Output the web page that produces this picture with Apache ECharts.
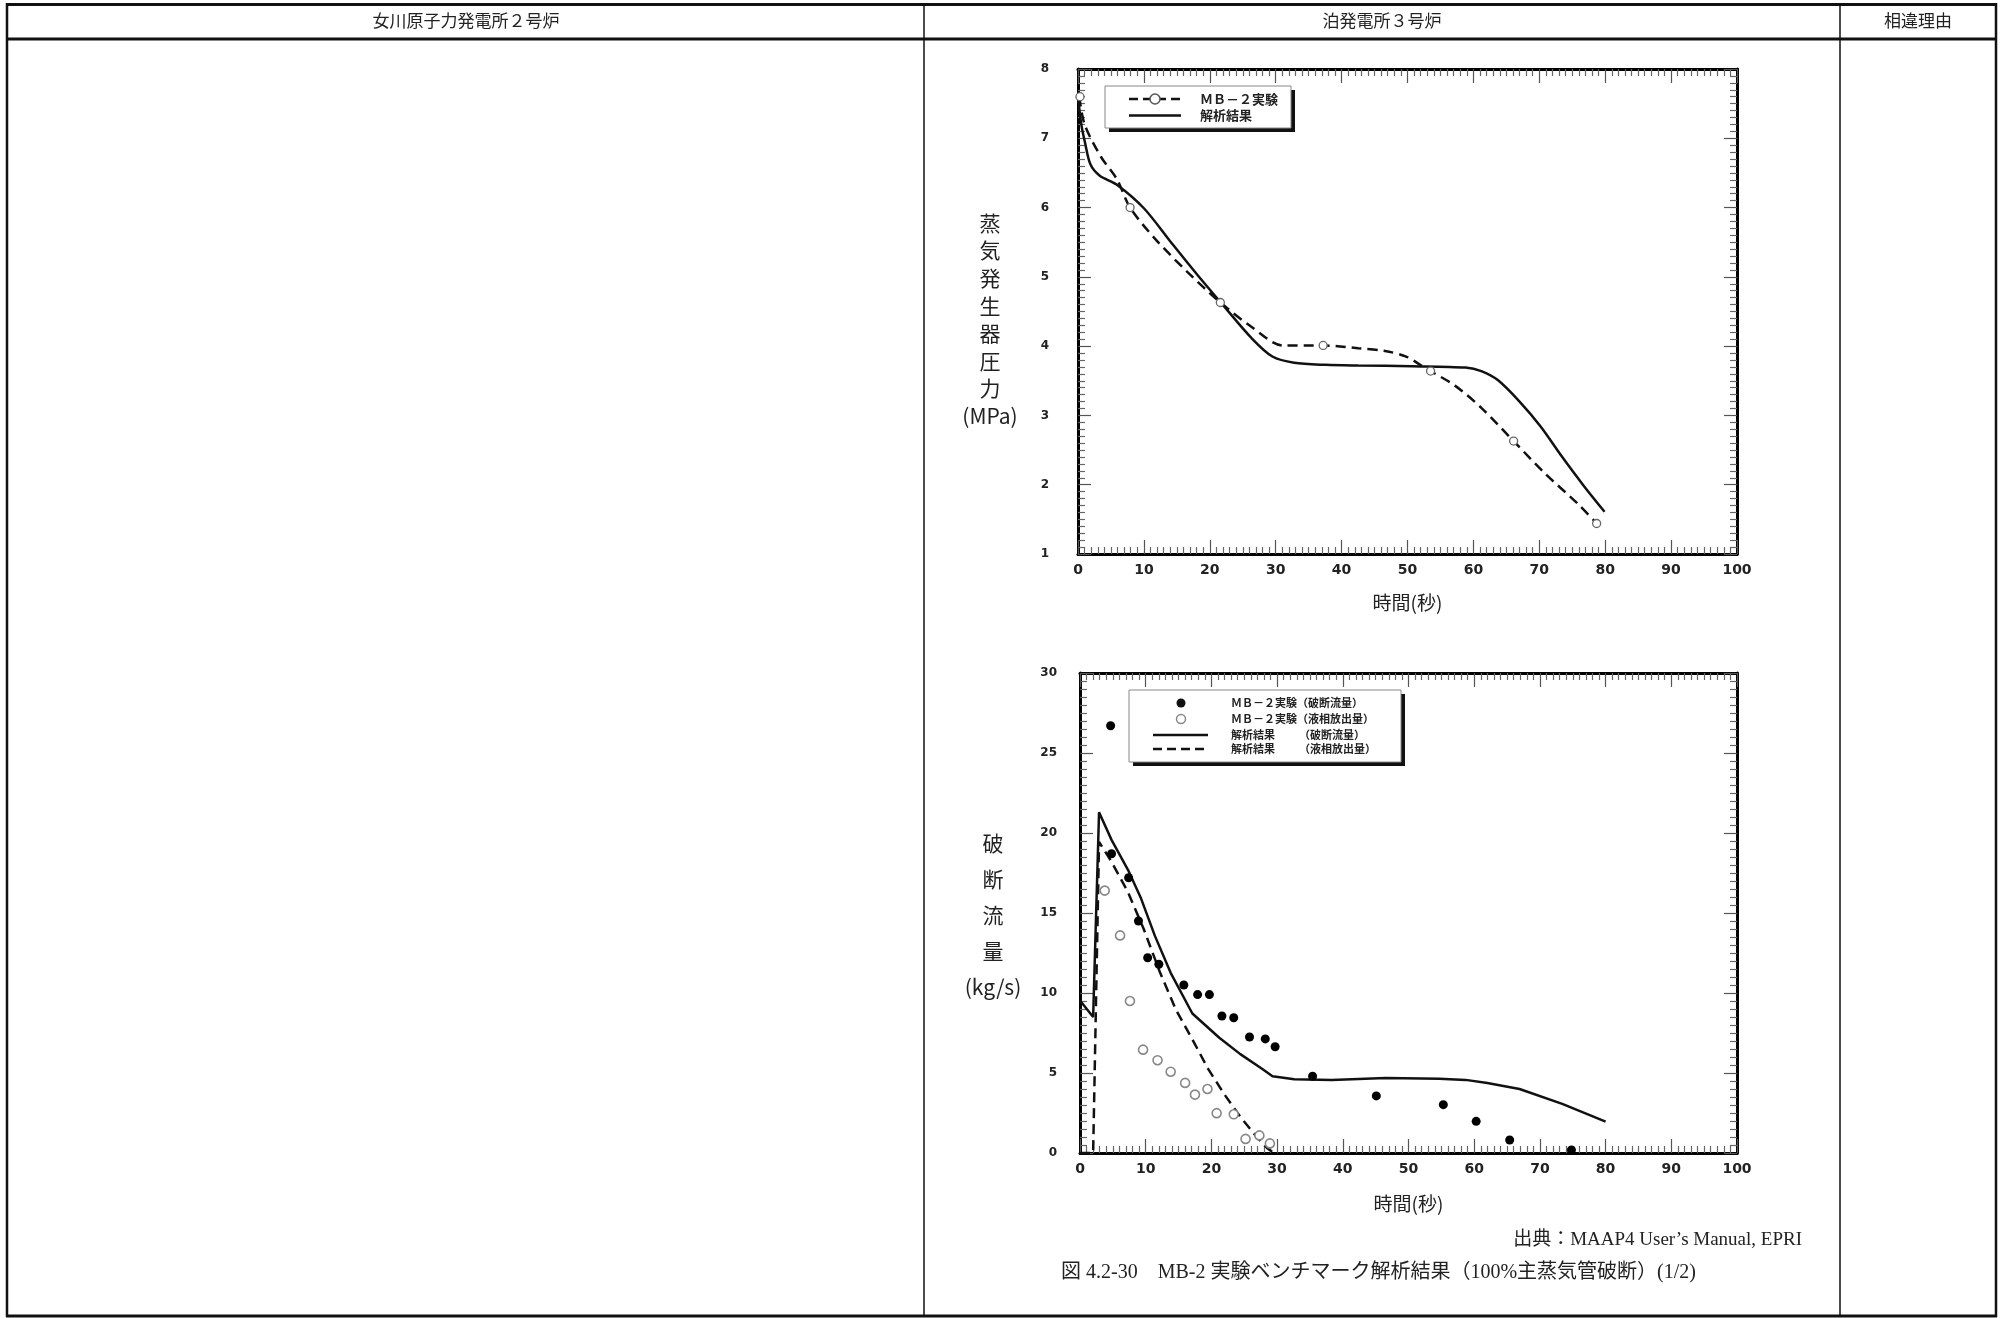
<!DOCTYPE html>
<html><head><meta charset="utf-8">
<script src="https://cdn.jsdelivr.net/npm/echarts@6/dist/echarts.min.js"></script>
<style>html,body{margin:0;padding:0;background:#fff}#c{width:2004px;height:1318px}</style>
</head><body><div id="c"></div><script>
// ---------- data ----------
const headerLabels = ['女川原子力発電所２号炉', '泊発電所３号炉', '相違理由'];
const xAxisName = '時間(秒)';
const pressureAxisName = ['蒸','気','発','生','器','圧','力','(MPa)'];
const flowAxisName = ['破','断','流','量','(kg/s)'];
const pressureLegend = ['ＭＢ－２実験', '解析結果'];
const flowLegend = ['ＭＢ－２実験（破断流量）', 'ＭＢ－２実験（液相放出量）', '解析結果', '（破断流量）', '（液相放出量）'];
const sourceNote = '出典：MAAP4 User\u2019s Manual, EPRI';
const figCaption = '図 4.2-30　MB-2 実験ベンチマーク解析結果（100%主蒸気管破断）(1/2)';

// top chart: SG pressure (MPa) vs time (s)
const pressureCalc = [[0,7.61],[0.5,7.2],[1.06,6.94],[1.9,6.62],[3.3,6.46],[5.9,6.33],[10,5.99],[14.1,5.5],[18.1,5.03],[22.2,4.57],[26.3,4.12],[29.5,3.85],[32.8,3.76],[37.6,3.73],[42.5,3.72],[50.7,3.71],[58.8,3.69],[61.2,3.64],[63.7,3.51],[66.9,3.21],[70.2,2.84],[73.4,2.41],[76.7,1.99],[79.9,1.61]];
const pressureExp = [[0.2,7.6],[1,7.2],[3.5,6.73],[5.9,6.41],[7.9,6.0],[11.6,5.56],[16.5,5.08],[21.6,4.63],[26.3,4.28],[31.1,4.01],[37.2,4.01],[42.5,3.97],[46.6,3.93],[49.8,3.85],[52.1,3.72],[53.5,3.64],[57.2,3.43],[61.2,3.11],[66.1,2.63],[71,2.15],[75.9,1.72],[78.7,1.44]];
const pressureExpMarks = [[0.3,7.6],[7.9,6.0],[21.6,4.63],[37.2,4.01],[53.5,3.64],[66.1,2.63],[78.7,1.44]];

// bottom chart: break flow (kg/s) vs time (s)
const flowCalc = [[0,9.53],[2.0,8.5],[2.9,21.3],[4.8,19.57],[7.3,17.7],[9.3,15.9],[11.4,13.57],[13.8,11.26],[17.1,8.72],[21.2,7.2],[24.4,6.18],[27.7,5.26],[29.3,4.8],[32.6,4.61],[38.3,4.57],[46.5,4.68],[54.7,4.64],[58.7,4.57],[62,4.38],[66.9,4.0],[73.4,3.07],[80,1.96]];
const liquidCalc = [[0,0],[2.0,0],[2.9,19.45],[4.8,18.2],[7.3,16.3],[9.7,14.0],[12.2,11.26],[14.6,8.95],[17.1,7.1],[19.5,5.26],[22,3.65],[24.4,2.26],[26.9,1.0],[28.5,0.3],[29.3,0.07]];
const flowExp = [[4.66,26.7],[4.8,18.7],[7.4,17.2],[8.9,14.5],[10.3,12.2],[12.0,11.8],[15.8,10.5],[17.9,9.9],[19.7,9.9],[21.6,8.56],[23.4,8.45],[25.8,7.25],[28.2,7.13],[29.7,6.64],[35.4,4.8],[45.1,3.57],[55.3,3.02],[60.3,1.98],[65.4,0.81],[74.8,0.19]];
const liquidExp = [[3.76,16.4],[6.1,13.6],[7.6,9.5],[9.6,6.46],[11.8,5.8],[13.8,5.08],[16,4.38],[17.5,3.65],[19.4,4.0],[20.8,2.49],[23.4,2.42],[25.2,0.88],[27.3,1.1],[28.9,0.6]];

// ---------- chart ----------
const chart = echarts.init(document.getElementById('c'), null, {renderer: 'canvas'});
const CJK = '"Noto Sans CJK JP", "Noto Sans", sans-serif';
const SERIF = '"Liberation Serif", "Noto Sans CJK JP", serif';
const TICKF = '"DejaVu Sans", sans-serif';

function xAx(grid, top, name, gap) {
  return {
    type: 'value', gridIndex: grid, min: 0, max: 100, interval: 10,
    position: top ? 'top' : 'bottom',
    axisLine: {show: true, onZero: false, lineStyle: {color: '#000', width: 3}},
    axisTick: {show: true, inside: true, length: 14, lineStyle: {color: '#555', width: 1.2}},
    minorTick: {show: true, splitNumber: 10, length: 7, lineStyle: {color: '#666', width: 1.2}},
    axisLabel: {show: !top, margin: 9, color: '#222', fontFamily: TICKF, fontWeight: 'bold', fontSize: 14},
    splitLine: {show: false},
    name: top ? '' : name, nameLocation: 'middle', nameGap: gap,
    nameTextStyle: {fontFamily: CJK, fontSize: 19, color: '#222', verticalAlign: 'middle'}
  };
}
function yAx(grid, right, min, max, interval, nameArr, gap, lh, margin, lead) {
  return {
    type: 'value', gridIndex: grid, min: min, max: max, interval: interval,
    position: right ? 'right' : 'left',
    axisLine: {show: true, onZero: false, lineStyle: {color: '#000', width: 3}},
    axisTick: {show: true, inside: true, length: 13, lineStyle: {color: '#555', width: 1.2}},
    minorTick: {show: true, splitNumber: 10, length: 7, lineStyle: {color: '#666', width: 1.2}},
    axisLabel: {show: !right, margin: margin, color: '#222', fontFamily: TICKF, fontWeight: 'bold', fontSize: 12},
    splitLine: {show: false},
    name: right ? '' : '{s| }\n' + nameArr.join('\n'), nameLocation: 'middle', nameGap: gap, nameRotate: 0,
    nameTextStyle: {fontFamily: CJK, fontSize: 21, color: '#222', align: 'center', verticalAlign: 'middle', lineHeight: lh,
      rich: {s: {fontSize: 4, lineHeight: lead || 1}}}
  };
}

const graphics = [];
// table frame
function hline(x1, x2, y, w) { graphics.push({type: 'line', shape: {x1, y1: y, x2, y2: y}, style: {stroke: '#111', lineWidth: w}, silent: true}); }
function vline(x, y1, y2, w) { graphics.push({type: 'line', shape: {x1: x, y1, x2: x, y2}, style: {stroke: '#111', lineWidth: w}, silent: true}); }
hline(6, 1997, 4.5, 3);
hline(6, 1997, 39, 3);
hline(6, 1997, 1316, 3);
vline(7, 3, 1317, 2.5);
vline(1996, 3, 1317, 2.5);
vline(924, 3, 1317, 1.5);
vline(1840, 3, 1317, 1.5);
const headerX = [466, 1382, 1918];
headerLabels.forEach((t, i) => graphics.push({type: 'text', x: headerX[i], y: 21, style: {text: t, font: '17px ' + CJK, fill: '#222', textAlign: 'center', textVerticalAlign: 'middle'}}));

// legend boxes
function legendBox(x, y, w, h) {
  graphics.push({type: 'rect', shape: {x: x + 4, y: y + 4, width: w, height: h}, style: {fill: '#111'}, z: 10});
  graphics.push({type: 'rect', shape: {x: x, y: y, width: w, height: h}, style: {fill: '#fff', stroke: '#888', lineWidth: 1}, z: 11});
}
function lsample(x1, x2, y, dash) {
  graphics.push({type: 'line', shape: {x1, y1: y, x2, y2: y}, style: {stroke: '#111', lineWidth: 2.5, lineDash: dash ? [9, 5] : null}, z: 12});
}
function ltext(x, y, t, size) {
  graphics.push({type: 'text', x: x, y: y, style: {text: t, font: 'bold ' + size + 'px ' + CJK, fill: '#222', textVerticalAlign: 'middle'}, z: 12});
}
legendBox(1105, 86, 186, 42);
lsample(1129, 1181, 99, true);
graphics.push({type: 'circle', shape: {cx: 1155, cy: 99, r: 5}, style: {fill: '#fff', stroke: '#555', lineWidth: 1.5}, z: 13});
ltext(1200, 99, pressureLegend[0], 13);
lsample(1129, 1181, 115.5, false);
ltext(1200, 115.5, pressureLegend[1], 13);

legendBox(1129, 690, 272, 72);
graphics.push({type: 'circle', shape: {cx: 1181, cy: 703, r: 4.5}, style: {fill: '#111'}, z: 13});
ltext(1231, 703, flowLegend[0], 11);
graphics.push({type: 'circle', shape: {cx: 1181, cy: 719, r: 4.5}, style: {fill: '#fff', stroke: '#888', lineWidth: 1.5}, z: 13});
ltext(1231, 719, flowLegend[1], 11);
lsample(1153, 1208, 735, false);
ltext(1231, 735, flowLegend[2], 11);
ltext(1299, 735, flowLegend[3], 11);
lsample(1153, 1208, 749, true);
ltext(1231, 749, flowLegend[2], 11);
ltext(1299, 749, flowLegend[4], 11);

// footer texts
graphics.push({type: 'text', x: 1802, y: 1240, style: {text: sourceNote, font: '19px ' + SERIF, fill: '#222', textAlign: 'right', textVerticalAlign: 'middle'}});
graphics.push({type: 'text', x: 1061, y: 1273, style: {text: figCaption, font: '20px ' + SERIF, fill: '#222', textAlign: 'left', textVerticalAlign: 'middle'}});

const option = {
  backgroundColor: '#fff',
  animation: false,
  grid: [
    {left: 1078, top: 69, width: 659, height: 485},
    {left: 1080, top: 673, width: 657, height: 480}
  ],
  xAxis: [xAx(0, false, xAxisName, 49), xAx(0, true), xAx(1, false, xAxisName, 51), xAx(1, true)],
  yAxis: [
    yAx(0, false, 1, 8, 1, pressureAxisName, 88, 27.6, 29, 16),
    yAx(0, true, 1, 8, 1, pressureAxisName),
    yAx(1, false, 0, 30, 5, flowAxisName, 87, 36, 23, 4),
    yAx(1, true, 0, 30, 5, flowAxisName)
  ],
  series: [
    {type: 'line', xAxisIndex: 0, yAxisIndex: 0, data: pressureCalc, showSymbol: false, smooth: 0.3, lineStyle: {color: '#111', width: 2.5}, z: 3},
    {type: 'line', xAxisIndex: 0, yAxisIndex: 0, data: pressureExp, showSymbol: false, smooth: 0.3, lineStyle: {color: '#111', width: 2.5, type: [10, 6]}, z: 3},
    {type: 'scatter', xAxisIndex: 0, yAxisIndex: 0, data: pressureExpMarks, symbol: 'circle', symbolSize: 8, itemStyle: {color: '#fff', opacity: 1, borderColor: '#666', borderWidth: 1.3}, z: 4},
    {type: 'line', xAxisIndex: 2, yAxisIndex: 2, data: flowCalc, showSymbol: false, smooth: false, lineStyle: {color: '#111', width: 2.5}, z: 3},
    {type: 'line', xAxisIndex: 2, yAxisIndex: 2, data: liquidCalc, showSymbol: false, smooth: false, lineStyle: {color: '#111', width: 2.5, type: [10, 6]}, z: 3},
    {type: 'scatter', xAxisIndex: 2, yAxisIndex: 2, data: flowExp, symbol: 'circle', symbolSize: 9, itemStyle: {color: '#000', opacity: 1}, z: 4},
    {type: 'scatter', xAxisIndex: 2, yAxisIndex: 2, data: liquidExp, symbol: 'circle', symbolSize: 9, itemStyle: {color: '#fff', opacity: 1, borderColor: '#888', borderWidth: 1.6}, z: 4}
  ],
  graphic: graphics
};
chart.setOption(option);
</script></body></html>
